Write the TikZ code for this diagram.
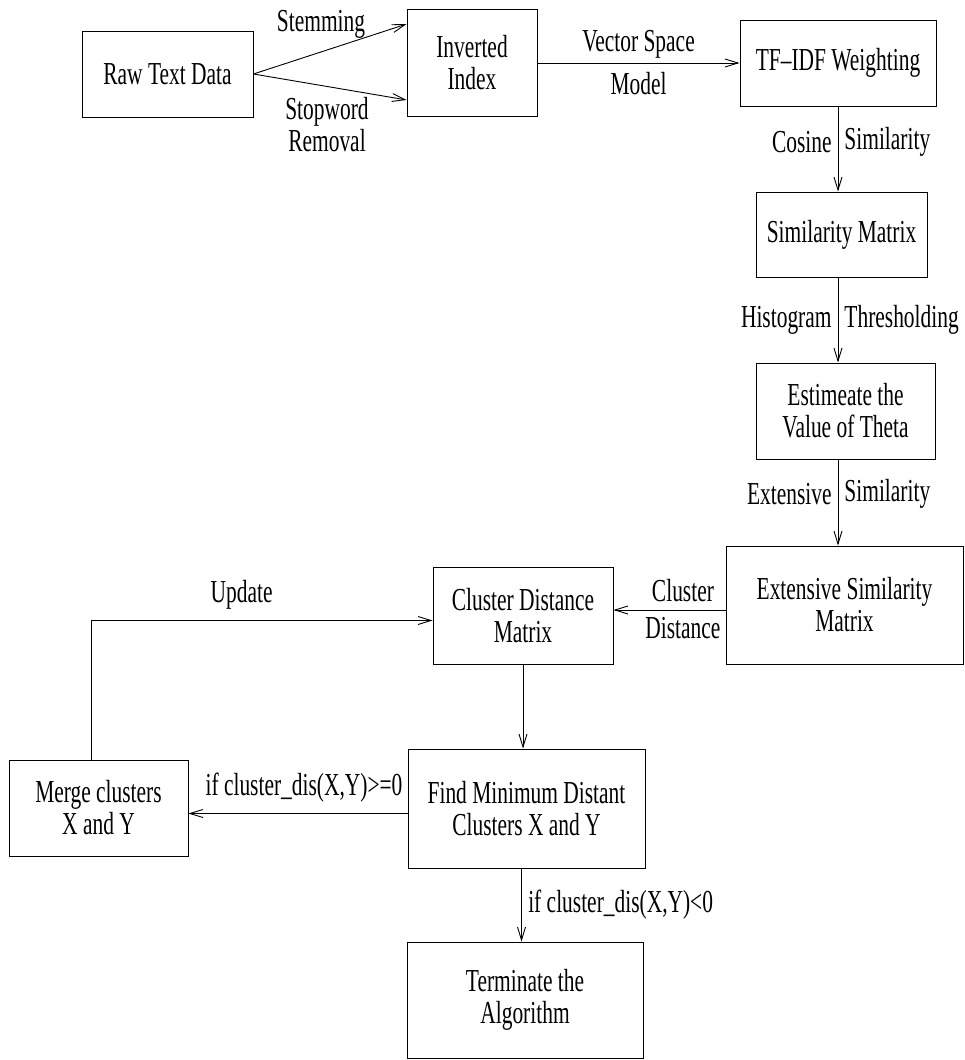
\documentclass[tikz,border=0pt]{standalone}
\usepackage{fontspec}
\setmainfont{Liberation Serif}[FakeStretch=0.67]
\usetikzlibrary{arrows.meta}

\begin{document}
\begin{tikzpicture}[x=1pt, y=-1pt, >={Straight Barb[length=13pt,width=8pt]}, line width=0.9pt,
  every node/.style={font=\fontsize{32}{32}\selectfont}]
%style for process box
\tikzstyle{pbox} = [rectangle, draw=black, align=center, inner sep=0pt]

%style for edge label
\tikzstyle{elabel} = [inner xsep=6pt]

\useasboundingbox (0,0) rectangle (964,1060);

%place nodes
\node[pbox, minimum width=171, minimum height=86] (raw) at (167.5,74) {Raw Text Data};
\node[pbox, minimum width=130, minimum height=107] (inv) at (472,63) {Inverted\\Index};
\node[pbox, minimum width=196, minimum height=86] (tfidf) at (838,63) {TF--IDF Weighting};
\node[pbox, minimum width=171, minimum height=85] (sim) at (841.5,234.5) {Similarity Matrix};
\node[pbox, minimum width=179, minimum height=96] (theta) at (845.5,411) {Estimeate the\\Value of Theta};
\node[pbox, minimum width=237, minimum height=118] (ext) at (844.5,605) {Extensive Similarity\\Matrix};
\node[pbox, minimum width=180, minimum height=97] (cdm) at (523,615.5) {Cluster Distance\\Matrix};
\node[pbox, minimum width=237, minimum height=119] (find) at (526.5,808.5) {Find Minimum Distant\\Clusters X and Y};
\node[pbox, minimum width=179, minimum height=96] (merge) at (98.5,808) {Merge clusters\\X and Y};
\node[pbox, minimum width=236, minimum height=116] (term) at (525,1000) {Terminate the\\Algorithm};

%labels of the first two arrows
\node (stem) at (321,24) {Stemming};
\node[align=center] (stop) at (327,125) {Stopword\\Removal};

%connect nodes with lines
\draw[->] (raw.east) -- ([yshift=-15pt]inv.north west);
\draw[->] (raw.east) -- ([yshift=17pt]inv.south west);
\draw[->] (inv.east) -- (inv.east -| tfidf.west)
  node[midway, above=1pt] {Vector Space} node[midway, below=6pt] {Model};

% similarity chain
\draw[->] (tfidf.south) -- (tfidf.south |- sim.north)
  node[elabel, pos=0.42, left] {Cosine} node[elabel, pos=0.42, right] {Similarity};
\draw[->] (tfidf.south |- sim.south) -- (tfidf.south |- theta.north)
  node[elabel, midway, left] {Histogram} node[elabel, midway, right] {Thresholding};
\draw[->] (tfidf.south |- theta.south) -- (tfidf.south |- ext.north)
  node[elabel, pos=0.4, left] {Extensive} node[elabel, pos=0.4, right] {Similarity};

% clustering loop
\draw[->] ([yshift=-5pt]ext.west) -- ([yshift=-5pt]ext.west -| cdm.east)
  node[pos=0.38, above=4pt] {Cluster} node[pos=0.38, below=4pt] {Distance};
\draw[->] (cdm.south) -- (cdm.south |- find.north);
\draw[->] ([yshift=-5pt]find.west) -- ([yshift=-5pt]find.west -| merge.east)
  node[midway, xshift=6pt, above=7pt] {if cluster\_dis(X,Y)>=0};
\draw[->] ([xshift=-7pt]merge.north) |- ([yshift=-5pt]cdm.west)
  node[pos=0.72, above=7pt] {Update};
\draw[->] ([xshift=-5pt]find.south) -- ([xshift=-5pt]find.south |- term.north)
  node[midway, right=3pt] {if cluster\_dis(X,Y)<0};
\end{tikzpicture}
\end{document}
